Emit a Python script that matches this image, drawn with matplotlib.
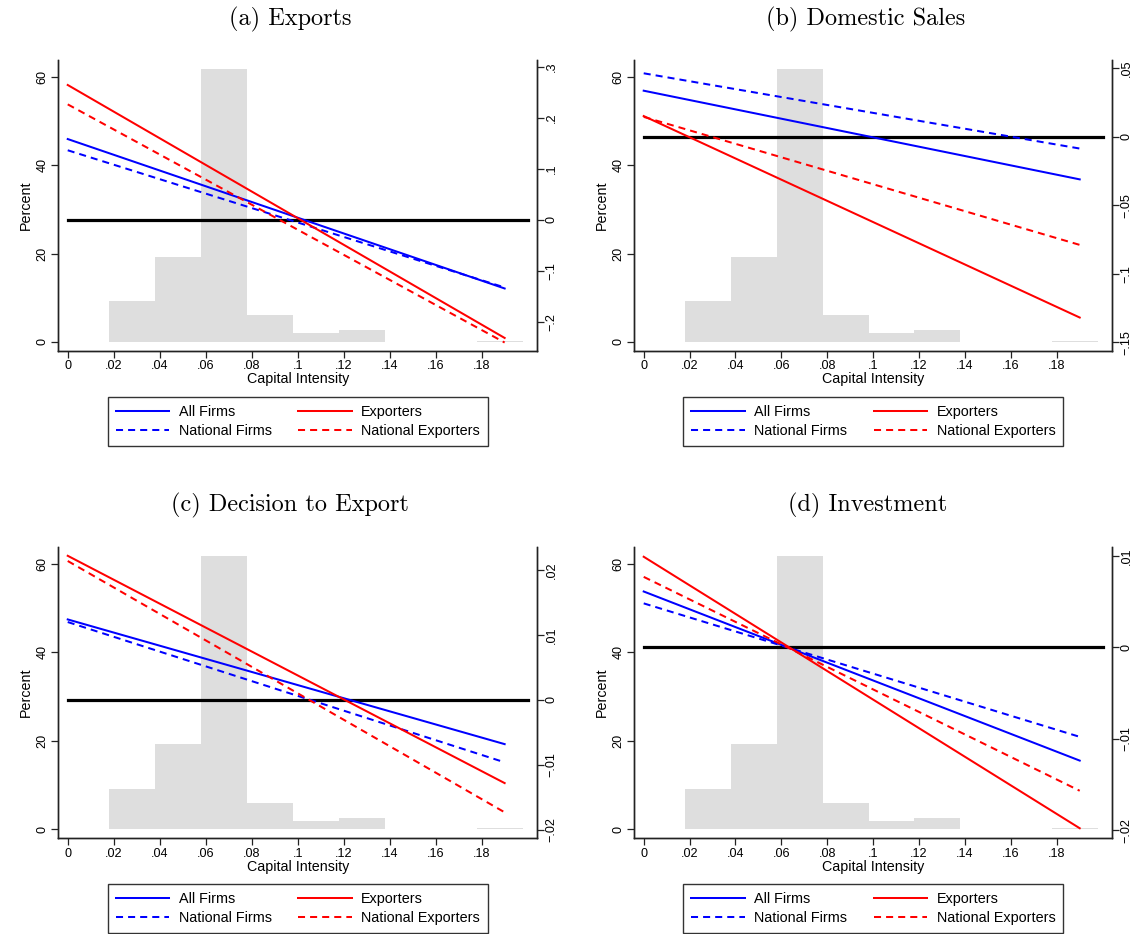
import numpy as np
import matplotlib.pyplot as plt
from matplotlib.ticker import FixedLocator, FuncFormatter

plt.rcParams['font.family'] = ['Liberation Sans', 'DejaVu Sans']

# histogram of capital intensity (percent per bin)
bin_edges = [0.018, 0.038, 0.058, 0.078, 0.098, 0.118, 0.138, 0.158, 0.178, 0.198]
bin_pct = [9.2, 19.2, 61.8, 6.0, 1.9, 2.65, 0.0, 0.0, 0.25]

# linear effects: value at capital intensity 0 and at .19
line_x = [0.0, 0.19]
series = ["All Firms", "National Firms", "Exporters", "National Exporters"]

titles = ["(a) Exports", "(b) Domestic Sales", "(c) Decision to Export", "(d) Investment"]

effects = [
    {"All Firms": [0.158, -0.135], "National Firms": [0.136, -0.133],
     "Exporters": [0.264, -0.232], "National Exporters": [0.226, -0.241]},
    {"All Firms": [0.0337, -0.031], "National Firms": [0.0464, -0.0085],
     "Exporters": [0.0152, -0.1318], "National Exporters": [0.0146, -0.0788]},
    {"All Firms": [0.0124, -0.0068], "National Firms": [0.0120, -0.0096],
     "Exporters": [0.0222, -0.0128], "National Exporters": [0.0214, -0.0173]},
    {"All Firms": [0.0061, -0.0124], "National Firms": [0.0048, -0.0098],
     "Exporters": [0.0099, -0.0198], "National Exporters": [0.0077, -0.0157]},
]

right_ticks = [
    [-0.2, -0.1, 0, 0.1, 0.2, 0.3],
    [-0.15, -0.1, -0.05, 0, 0.05],
    [-0.02, -0.01, 0, 0.01, 0.02],
    [-0.02, -0.01, 0, 0.01],
]
right_lims = [(-0.257, 0.313), (-0.156, 0.0561), (-0.0213, 0.0236), (-0.0209, 0.0110)]

x_ticks = [0, 0.02, 0.04, 0.06, 0.08, 0.1, 0.12, 0.14, 0.16, 0.18]
left_ticks = [0, 20, 40, 60]

dash = (0, (3.5, 2.5))
styles = {
    "All Firms": dict(color="#0000ff", ls="-"),
    "National Firms": dict(color="#0000ff", ls=dash),
    "Exporters": dict(color="#ff0000", ls="-"),
    "National Exporters": dict(color="#ff0000", ls=dash),
}


def stata_fmt(v, pos=None):
    s = f"{v:g}"
    s = s.replace("0.", ".")
    return s.replace("-", "\u2212")


W, H = 1138, 934
fig = plt.figure(figsize=(W / 100, H / 100), dpi=100)

# pixel boxes: left, right, top, bottom
boxes = [(58.3, 537.3, 60, 350.7), (634.3, 1112.3, 60, 350.7),
         (58.3, 537.3, 546.7, 838.3), (634.3, 1112.3, 546.7, 838.3)]
title_pos = [(290, 19), (866, 19), (290, 505), (868, 505)]
legend_top = [396.7, 396.7, 884, 884]

spine_col = "#222222"

for i in range(4):
    l, r, t, b = boxes[i]
    ax = fig.add_axes([l / W, 1 - b / H, (r - l) / W, (b - t) / H])
    ax2 = ax.twinx()

    widths = np.diff(bin_edges)
    ax.bar(bin_edges[:-1], bin_pct, width=widths, align="edge",
           color="#dedede", edgecolor="none", zorder=1)
    ax.set_xlim(-0.0041, 0.2042)
    ax.set_ylim(-2.0, 63.8)
    ax.yaxis.set_major_locator(FixedLocator(left_ticks))
    ax.xaxis.set_major_locator(FixedLocator(x_ticks))
    ax.xaxis.set_major_formatter(FuncFormatter(stata_fmt))
    ax.tick_params(axis="y", labelrotation=90, length=5, width=0.9,
                   labelsize=9.1, pad=2.2, color=spine_col)
    ax.tick_params(axis="x", length=5, width=0.9, labelsize=9.1, pad=1.8,
                   color=spine_col)
    for lab in ax.get_yticklabels():
        lab.set_va("center")
    ax.set_ylabel("Percent", fontsize=10.3)
    ax.yaxis.set_label_coords(-0.054, 0.5)
    ax.set_xlabel("Capital Intensity", fontsize=10.3)
    ax.xaxis.set_label_coords(0.5, -0.074)

    ax2.plot([0, 0.2], [0, 0], color="black", lw=2.3, zorder=2)
    handles = {}
    for name in series:
        st = styles[name]
        h, = ax2.plot(line_x, effects[i][name], color=st["color"],
                      linestyle=st["ls"], lw=1.45, label=name, zorder=3)
        handles[name] = h
    ax2.set_ylim(*right_lims[i])
    ax2.yaxis.set_major_locator(FixedLocator(right_ticks[i]))
    ax2.yaxis.set_major_formatter(FuncFormatter(stata_fmt))
    ax2.tick_params(axis="y", labelrotation=90, length=5, width=0.9,
                    labelsize=9.1, pad=1.0, color=spine_col)
    for lab in ax2.get_yticklabels():
        lab.set_va("center")

    for a in (ax, ax2):
        a.spines["top"].set_visible(False)
        for s in ("left", "right", "bottom"):
            a.spines[s].set_color(spine_col)
            a.spines[s].set_linewidth(1.0)

    fig.text(title_pos[i][0] / W, 1 - title_pos[i][1] / H, titles[i],
             fontsize=17.5, family="cmr10", ha="center", va="center")

    leg = ax2.legend([handles[n] for n in series], series, ncol=2,
                     loc="upper center",
                     bbox_to_anchor=((l + r) / 2 / W, 1 - legend_top[i] / H),
                     bbox_transform=fig.transFigure, fontsize=10.4,
                     frameon=True, fancybox=False, edgecolor="black",
                     handlelength=3.7, handletextpad=0.65, columnspacing=1.85,
                     labelspacing=0.35, borderpad=0.55, borderaxespad=0)
    leg.get_frame().set_linewidth(1.0)

fig.savefig("out.png", dpi=100)
